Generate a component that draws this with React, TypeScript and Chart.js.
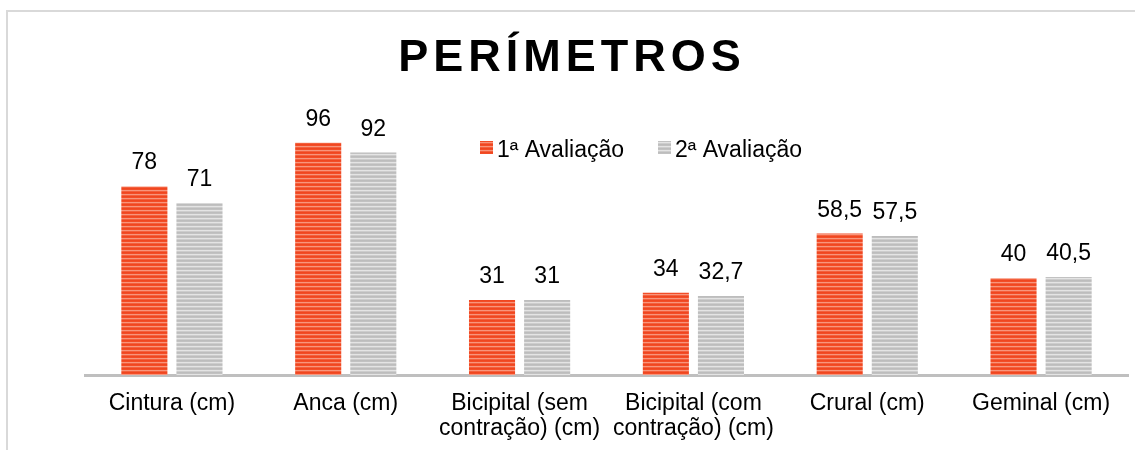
import React, { useEffect, useRef } from "react";
import { Chart, registerables } from "chart.js";

Chart.register(...registerables);

const categories: (string | string[])[] = [
  "Cintura (cm)",
  "Anca (cm)",
  ["Bicipital (sem", "contração) (cm)"],
  ["Bicipital (com", "contração) (cm)"],
  "Crural (cm)",
  "Geminal (cm)",
];
const seriesNames = ["1ª Avaliação", "2ª Avaliação"];
const avaliacao1 = [78, 96, 31, 34, 58.5, 40];
const avaliacao2 = [71, 92, 31, 32.7, 57.5, 40.5];
const chartTitle = "PERÍMETROS";

const FONT = "'Liberation Sans', Arial, sans-serif";

function makePattern(ctx: CanvasRenderingContext2D, rows: string[]) {
  const c = document.createElement("canvas");
  c.width = 8;
  c.height = rows.length;
  const g = c.getContext("2d")!;
  rows.forEach((col, i) => {
    g.fillStyle = col;
    g.fillRect(0, i, 8, 1);
  });
  return ctx.createPattern(c, "repeat")!;
}

const fmt = (v: number) => String(v).replace(".", ",");

export default function App() {
  const ref = useRef<HTMLCanvasElement>(null);
  useEffect(() => {
    const canvas = ref.current!;
    const ctx = canvas.getContext("2d")!;
    const redPat = makePattern(ctx, ["#F0461F", "#F24D27", "#F8957C", "#F3603D"]);
    const grayPat = makePattern(ctx, ["#BDBDBD", "#C2C2C2", "#E4E4E4", "#CDCDCD"]);

    const decor = {
      id: "decor",
      beforeDraw(chart: any) {
        const c = chart.ctx;
        c.save();
        c.fillStyle = "#FFFFFF";
        c.fillRect(0, 0, chart.width, chart.height);
        c.strokeStyle = "#D9D9D9";
        c.lineWidth = 2;
        c.strokeRect(7, 11, 1200, 600);
        // title
        c.fillStyle = "#000000";
        c.font = `bold 45px ${FONT}`;
        (c as any).letterSpacing = "5px";
        c.textAlign = "center";
        c.textBaseline = "alphabetic";
        c.fillText(chartTitle, 572, 71);
        (c as any).letterSpacing = "0px";
        c.restore();
      },
      afterDatasetsDraw(chart: any) {
        const c = chart.ctx;
        c.save();
        c.fillStyle = "#000000";
        c.font = `23px ${FONT}`;
        c.textAlign = "center";
        c.textBaseline = "alphabetic";
        chart.data.datasets.forEach((ds: any, di: number) => {
          const meta = chart.getDatasetMeta(di);
          meta.data.forEach((bar: any, i: number) => {
            c.fillText(fmt(ds.data[i]), bar.x, bar.y - 17);
          });
        });
        // legend
        const items = [
          { x: 480, tx: 497 },
          { x: 658, tx: 675 },
        ];
        c.textAlign = "left";
        c.textBaseline = "alphabetic";
        items.forEach((it, i) => {
          c.fillStyle = i === 0 ? redPat : grayPat;
          c.fillRect(it.x, 141, 13, 13);
          c.fillStyle = "#000000";
          c.fillText(chart.data.datasets[i].label, it.tx, 157);
        });
        c.restore();
      },
    };

    const chart = new Chart(canvas, {
      type: "bar",
      data: {
        labels: categories,
        datasets: [
          { label: seriesNames[0], data: avaliacao1, backgroundColor: redPat },
          { label: seriesNames[1], data: avaliacao2, backgroundColor: grayPat },
        ],
      },
      options: {
        responsive: false,
        animation: false,
        layout: { padding: { top: 109, left: 85, right: 7, bottom: 0 } },
        datasets: {
          bar: { categoryPercentage: 0.634, barPercentage: 0.836 },
        } as any,
        plugins: {
          legend: { display: false },
          title: { display: false },
          tooltip: { enabled: false },
        },
        scales: {
          x: {
            grid: { display: false, drawTicks: false },
            border: { display: true, color: "#BFBFBF", width: 3 },
            ticks: {
              color: "#000000",
              font: { family: FONT, size: 23, lineHeight: 1.1 },
              padding: 16,
              maxRotation: 0,
              autoSkip: false,
            },
            afterFit: (scale: any) => {
              scale.height = 75;
            },
          },
          y: { display: false, min: 0, max: 110 },
        },
      },
      plugins: [decor],
    });
    return () => chart.destroy();
  }, []);
  return (
    <div style={{ position: "fixed", left: 0, top: 0, width: 1135, height: 450, background: "#fff" }}>
      <canvas ref={ref} width={1135} height={450} style={{ display: "block" }} />
    </div>
  );
}
